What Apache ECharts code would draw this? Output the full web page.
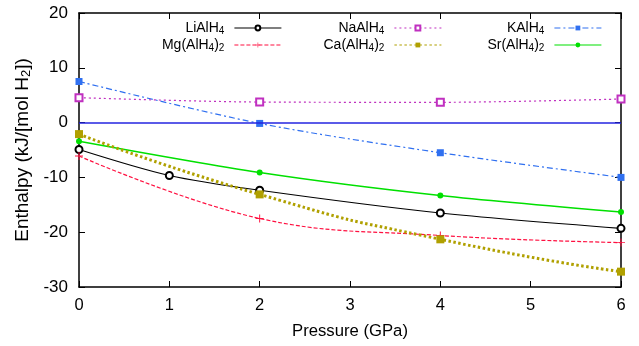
<!DOCTYPE html>
<html><head><meta charset="utf-8">
<script src="https://cdn.jsdelivr.net/npm/echarts@6/dist/echarts.min.js"></script>
<style>html,body{margin:0;padding:0;background:#fff}#c{width:639px;height:346px}</style>
</head><body><div id="c"></div>
<script>
const pressure = [0, 2, 4, 6];
const pressureLi = [0, 1, 2, 4, 6];
const LiAlH4 = [-4.9, -9.65, -12.35, -16.5, -19.3];
const MgAlH4_2 = [-6.1, -17.5, -20.6, -21.9];
const NaAlH4 = [4.55, 3.75, 3.7, 4.3];
const CaAlH4_2 = [-2.1, -13.1, -21.3, -27.2];
const KAlH4 = [7.5, -0.15, -5.5, -10.0];
const SrAlH4_2 = [-3.4, -9.1, -13.3, -16.3];
const xTicks = [0, 1, 2, 3, 4, 5, 6];
const yTicks = [-30, -20, -10, 0, 10, 20];

const FONT = '"Liberation Sans", Arial, Helvetica, sans-serif';
function pairs(xs, ys){ return ys.map((v,i)=>[xs[i], v]); }
const plus = 'path://M-0.12,-1H0.12V-0.12H1V0.12H0.12V1H-0.12V0.12H-1V-0.12H-0.12Z';

const chart = echarts.init(document.getElementById('c'), null, {renderer:'canvas'});
const subFmt = n => n.replace(/(\d)/g, '{s|$1}');
const legendText = {fontFamily: FONT, fontSize: 14, color:'#000', lineHeight: 16, padding:[0,5,0,0],
  rich: {s: {fontFamily: FONT, fontSize: 10, lineHeight: 6, verticalAlign:'bottom', color:'#000'}}};
function legend(names, right){
  return {data: names, orient:'vertical', align:'right', right: right, top: 20, itemGap: 1,
    itemWidth: 47, itemHeight: 6, formatter: subFmt, textStyle: legendText, selectedMode:false, padding:0,
    lineStyle:{width:1.2}};
}
const axisLine = {show:true, onZero:false, lineStyle:{color:'#000', width:1.5}};
const tick = {show:true, inside:true, length:6, lineStyle:{color:'#000', width:1}};

chart.setOption({
  animation:false,
  backgroundColor:'#fff',
  grid:{left:79, right:18, top:13, bottom:59},
  legend:[legend(['LiAlH4','Mg(AlH4)2'], 357), legend(['NaAlH4','Ca(AlH4)2'], 197), legend(['KAlH4','Sr(AlH4)2'], 37)],
  xAxis:[
    {type:'value', min:0, max:6, interval:1, position:'bottom', axisLine, axisTick:tick, splitLine:{show:false},
     axisLabel:{fontFamily:FONT, fontSize:16.5, color:'#000', margin:10},
     name:'Pressure (GPa)', nameLocation:'middle', nameGap:36, nameTextStyle:{fontFamily:FONT, fontSize:16.7, color:'#000'}},
    {type:'value', min:0, max:6, interval:1, position:'top', axisLine, axisTick:tick, axisLabel:{show:false}, splitLine:{show:false}}
  ],
  yAxis:[
    {type:'value', min:-30, max:20, interval:10, position:'left', axisLine, axisTick:tick, splitLine:{show:false},
     axisLabel:{fontFamily:FONT, fontSize:17, color:'#000', margin:11},
     name:'Enthalpy (kJ/[mol H{s|2}])', nameLocation:'middle', nameGap:39,
     nameTextStyle:{fontFamily:FONT, fontSize:19, color:'#000', lineHeight:20,
       rich:{s:{fontFamily:FONT, fontSize:13, lineHeight:8, verticalAlign:'bottom', color:'#000'}}}},
    {type:'value', min:-30, max:20, interval:10, position:'right', axisLine, axisTick:tick, axisLabel:{show:false}, splitLine:{show:false}}
  ],
  series:[
    {name:'KAlH4', type:'line', data:pairs(pressure, KAlH4), smooth:0.3, symbol:'rect', symbolSize:7, color:'#3070f0',
     lineStyle:{color:'#3070f0', width:1.2, type:[6,3,2,3]}, itemStyle:{color:'#3070f0'},
     markLine:{silent:true, symbol:'none', label:{show:false}, data:[{yAxis:0}], lineStyle:{color:'#2424e0', type:'solid', width:1.5}}},
    {name:'NaAlH4', type:'line', data:pairs(pressure, NaAlH4), smooth:0.3, symbol:'emptyRect', symbolSize:7, color:'#c030c0',
     lineStyle:{color:'#c030c0', width:1.2, type:[2,3]}, itemStyle:{color:'#c030c0', borderWidth:1}},
    {name:'Sr(AlH4)2', type:'line', data:pairs(pressure, SrAlH4_2), smooth:0.3, symbol:'circle', symbolSize:6, color:'#00e000',
     lineStyle:{color:'#00e000', width:1.5, type:'solid'}, itemStyle:{color:'#00e000'}},
    {name:'LiAlH4', type:'line', data:pairs(pressureLi, LiAlH4), smooth:0.3, symbol:'emptyCircle', symbolSize:7, color:'#000',
     lineStyle:{color:'#000', width:1.2, type:'solid'}, itemStyle:{color:'#000', borderWidth:1}},
    {name:'Mg(AlH4)2', type:'line', data:pairs(pressure, MgAlH4_2), smooth:0.4, symbol:plus, symbolSize:8, color:'#ff1040',
     lineStyle:{color:'#ff1040', width:1.2, type:[4,2]}, itemStyle:{color:'#ff1040'}},
    {name:'Ca(AlH4)2', type:'line', data:pairs(pressure, CaAlH4_2), smooth:0.6, symbol:'rect', symbolSize:8, color:'#b0a000',
     lineStyle:{color:'#b0a000', width:3, type:[2.5,2.5]}, itemStyle:{color:'#b0a000'}}
  ]
});
</script></body></html>
